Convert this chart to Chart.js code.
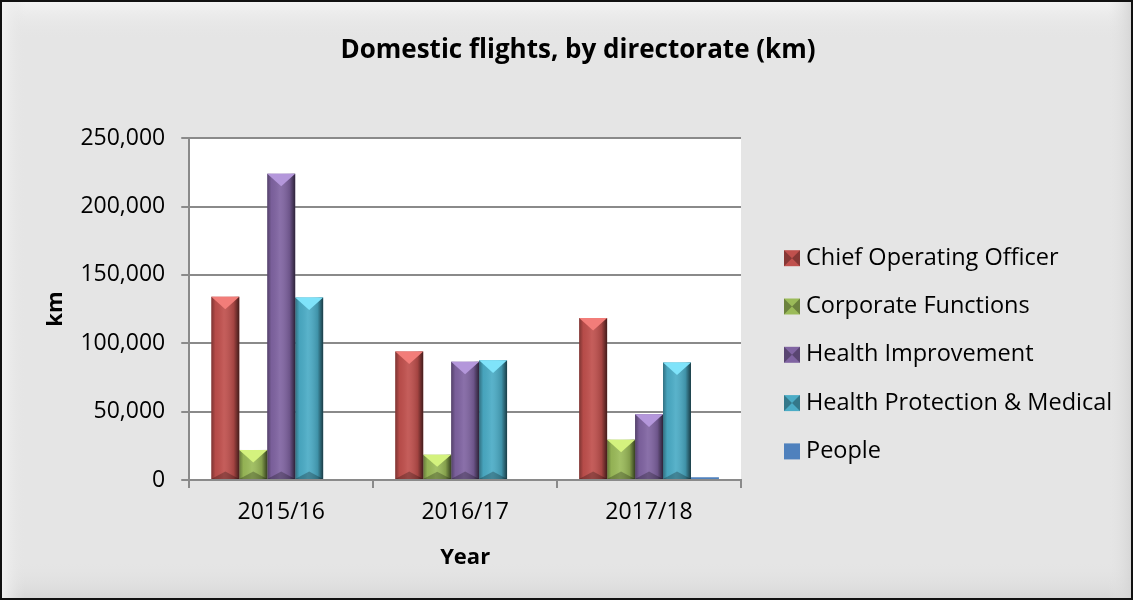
<!DOCTYPE html>
<html>
<head>
<meta charset="utf-8">
<script src="https://cdn.jsdelivr.net/npm/chart.js@4.4.0/dist/chart.umd.min.js"></script>
<style>
    html, body { margin: 0; padding: 0; background: #fff; }
    #wrap { width: 1133px; height: 600px; position: relative; }
</style>
</head>
<body>
<div id="wrap"><canvas id="barChart"></canvas></div>
<script>
// Años (eje x)
var Years = ['2015/16', '2016/17', '2017/18'];
// Valores por directorado (km)
var ChiefOperating = [134000, 94000, 118500];
var CorporateFunctions = [22000, 18500, 29500];
var HealthImprovement = [224000, 86500, 48000];
var HealthProtection = [133500, 87500, 86000];
var People = [null, null, 2000];
// Nombres y colores de las series
var SeriesNames = ['Chief Operating Officer', 'Corporate Functions', 'Health Improvement', 'Health Protection & Medical', 'People'];
var SeriesColors = ['#C0504D', '#9BBB59', '#8064A2', '#4BACC6', '#4F81BD'];
var SeriesTops = ['#F27D79', '#D4F27E', '#B497DB', '#7FE3FA', null];
// Ticks del eje y
var YTicks = [0, 50000, 100000, 150000, 200000, 250000];

var FONT = "'Open Sans', sans-serif";
// Espacio reservado a la derecha para la leyenda
var LEGEND_SPACE = 372;

// Fondo gris del grafico, borde negro y area blanca
var backgroundPlugin = {
    id: 'background',
    beforeDraw: function (chart) {
        var ctx = chart.ctx, w = chart.width, h = chart.height, a = chart.chartArea;
        ctx.save();
        ctx.fillStyle = '#e5e5e5';
        ctx.fillRect(0, 0, w, h);
        // bisel claro arriba
        var g = ctx.createLinearGradient(0, 0, 0, 40);
        g.addColorStop(0, '#f4f4f4');
        g.addColorStop(1, 'rgba(229,229,229,0)');
        ctx.fillStyle = g;
        ctx.fillRect(0, 0, w, 40);
        var gb = ctx.createLinearGradient(0, h - 40, 0, h);
        gb.addColorStop(0, 'rgba(229,229,229,0)');
        gb.addColorStop(1, '#d6d6d6');
        ctx.fillStyle = gb;
        ctx.fillRect(0, h - 40, w, 40);
        var gr = ctx.createLinearGradient(w - 25, 0, w, 0);
        gr.addColorStop(0, 'rgba(229,229,229,0)');
        gr.addColorStop(1, '#d4d4d4');
        ctx.fillStyle = gr;
        ctx.fillRect(w - 25, 0, 25, h);
        var gl = ctx.createLinearGradient(0, 0, 25, 0);
        gl.addColorStop(0, '#f3f3f3');
        gl.addColorStop(1, 'rgba(229,229,229,0)');
        ctx.fillStyle = gl;
        ctx.fillRect(0, 0, 25, h);
        ctx.fillStyle = '#ffffff';
        ctx.fillRect(a.left, a.top, a.right - a.left, a.bottom - a.top);
        ctx.restore();
    },
    afterDraw: function (chart) {
        var ctx = chart.ctx;
        ctx.save();
        ctx.strokeStyle = '#111';
        ctx.lineWidth = 2;
        ctx.strokeRect(1, 1, chart.width - 2, chart.height - 2);
        ctx.restore();
    }
};

// Efecto bisel en las barras
var bevelPlugin = {
    id: 'bevel',
    afterDatasetsDraw: function (chart) {
        var ctx = chart.ctx;
        ctx.save();
        chart.data.datasets.forEach(function (ds, di) {
            if (!SeriesTops[di]) return;
            var meta = chart.getDatasetMeta(di);
            meta.data.forEach(function (bar, i) {
                if (ds.data[i] == null) return;
                var p = bar.getProps(['x', 'y', 'base', 'width'], true);
                var left = p.x - p.width / 2, right = p.x + p.width / 2;
                var top = p.y, bottom = p.base, hgt = bottom - top;
                var g = ctx.createLinearGradient(left, 0, right, 0);
                g.addColorStop(0, 'rgba(0,0,0,0.35)');
                g.addColorStop(0.15, 'rgba(0,0,0,0.05)');
                g.addColorStop(0.45, 'rgba(255,255,255,0.08)');
                g.addColorStop(0.8, 'rgba(0,0,0,0.15)');
                g.addColorStop(1, 'rgba(0,0,0,0.65)');
                ctx.fillStyle = g;
                ctx.fillRect(left, top, p.width, hgt);
                var d = Math.min(p.width * 0.45, hgt / 2);
                ctx.fillStyle = SeriesTops[di];
                ctx.beginPath();
                ctx.moveTo(left, top);
                ctx.lineTo(right, top);
                ctx.lineTo(p.x, top + d);
                ctx.closePath();
                ctx.fill();
                ctx.fillStyle = 'rgba(0,0,0,0.25)';
                ctx.beginPath();
                ctx.moveTo(left, bottom);
                ctx.lineTo(right, bottom);
                ctx.lineTo(p.x, bottom - d * 0.6);
                ctx.closePath();
                ctx.fill();
            });
        });
        ctx.restore();
    }
};

// Leyenda a la derecha (la de la libreria recorta el texto largo)
var legendPlugin = {
    id: 'sideLegend',
    afterDraw: function (chart) {
        var ctx = chart.ctx, a = chart.chartArea;
        var x = a.right + 43;
        var y0 = a.top + 120;
        ctx.save();
        ctx.font = '23.5px ' + FONT;
        ctx.textBaseline = 'middle';
        ctx.textAlign = 'left';
        chart.data.datasets.forEach(function (ds, i) {
            var y = y0 + i * 48.3;
            ctx.fillStyle = SeriesColors[i];
            ctx.fillRect(x, y - 8, 16, 16);
            if (SeriesTops[i]) {
                ctx.fillStyle = 'rgba(0,0,0,0.3)';
                ctx.beginPath();
                ctx.moveTo(x, y - 8); ctx.lineTo(x + 8, y); ctx.lineTo(x, y + 8);
                ctx.closePath(); ctx.fill();
                ctx.beginPath();
                ctx.moveTo(x + 16, y - 8); ctx.lineTo(x + 8, y); ctx.lineTo(x + 16, y + 8);
                ctx.closePath(); ctx.fill();
            }
            ctx.fillStyle = '#000';
            ctx.fillText(ds.label, x + 22, y);
        });
        ctx.restore();
    }
};

var AllSeries = [ChiefOperating, CorporateFunctions, HealthImprovement, HealthProtection, People];
var datasets = [];
for (var k = 0; k < AllSeries.length; k++) {
    datasets.push({
        label: SeriesNames[k],
        data: AllSeries[k],
        backgroundColor: SeriesColors[k],
        borderWidth: 0,
        categoryPercentage: 0.76,
        barPercentage: 1.0
    });
}

new Chart(document.getElementById('barChart').getContext('2d'), {
    type: 'bar',
    data: { labels: Years, datasets: datasets },
    plugins: [backgroundPlugin, bevelPlugin, legendPlugin],
    options: {
        responsive: true,
        maintainAspectRatio: false,
        animation: false,
        layout: { padding: { top: 35, left: 43, right: 20, bottom: 25 } },
        plugins: {
            title: {
                display: true,
                text: 'Domestic flights, by directorate (km)',
                color: '#000',
                font: { family: FONT, size: 26, weight: 'bold' },
                padding: { top: 0, bottom: 72 }
            },
            legend: { display: false },
            tooltip: { enabled: false }
        },
        scales: {
            x: {
                grid: {
                    display: true,
                    offset: true,
                    drawOnChartArea: false,
                    drawTicks: true,
                    tickLength: 8,
                    color: '#8a8a8a',
                    lineWidth: 2
                },
                border: { color: '#8a8a8a', width: 2 },
                ticks: { color: '#000', font: { family: FONT, size: 23 }, padding: 11 },
                title: {
                    display: true,
                    text: 'Year',
                    color: '#000',
                    font: { family: FONT, size: 22, weight: 'bold' },
                    padding: { top: 7 }
                }
            },
            y: {
                min: 0,
                max: 250000,
                afterBuildTicks: function (axis) {
                    axis.ticks = YTicks.map(function (v) { return { value: v }; });
                },
                grid: { color: '#8a8a8a', lineWidth: 2, tickLength: 8 },
                border: { color: '#8a8a8a', width: 2 },
                ticks: {
                    color: '#000',
                    font: { family: FONT, size: 23 },
                    padding: 16,
                    callback: function (v) { return v.toLocaleString('en-US'); }
                },
                title: {
                    display: true,
                    text: 'km',
                    color: '#000',
                    font: { family: FONT, size: 22, weight: 'bold' },
                    padding: { top: 0, bottom: -5 }
                }
            },
            // eje vacio a la derecha: solo reserva el sitio de la leyenda
            yLegend: {
                position: 'right',
                display: true,
                grid: { display: false, drawTicks: false },
                border: { display: false },
                ticks: { display: false },
                afterFit: function (axis) { axis.width = LEGEND_SPACE; }
            }
        }
    }
});
</script>
</body>
</html>
